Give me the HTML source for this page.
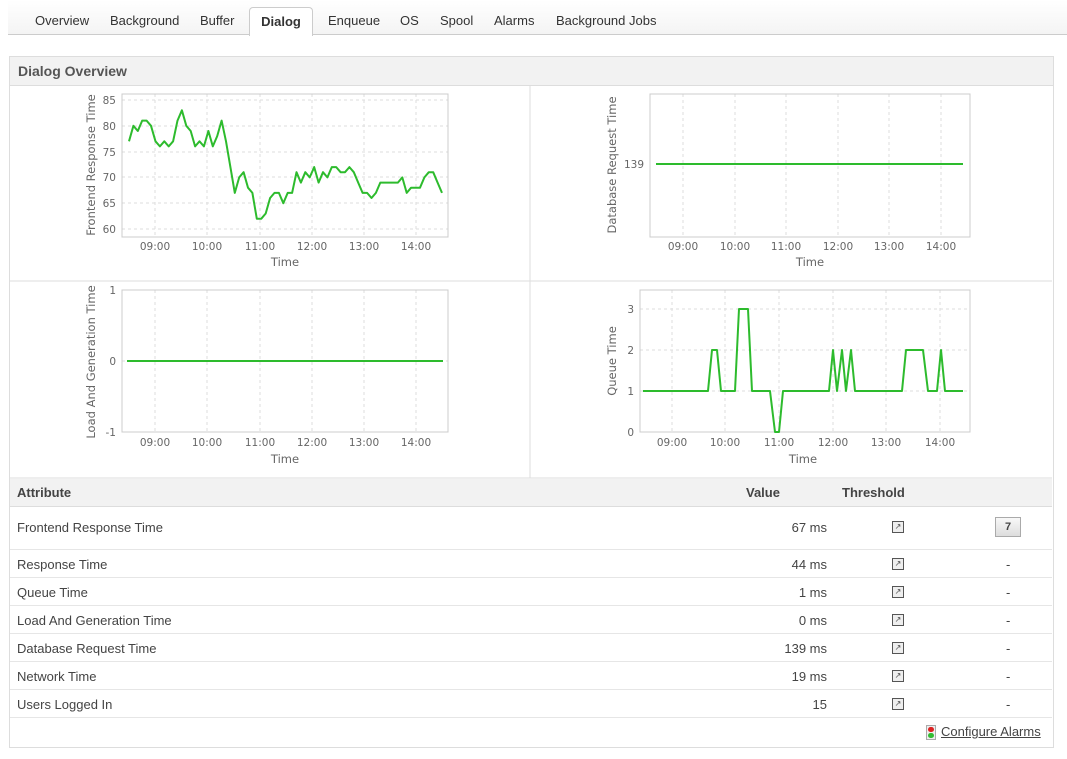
<!DOCTYPE html>
<html><head><meta charset="utf-8"><style>
body{margin:0;width:1067px;height:759px;background:#fff;font-family:"Liberation Sans",sans-serif;position:relative;overflow:hidden;color:#444}
.tabs{position:absolute;left:8px;top:0;width:1059px;height:34px;border-bottom:1px solid #ccc;background:linear-gradient(#fff,#f4f4f4)}
.tab{position:absolute;top:13px;font-size:13px;color:#333}
.act{position:absolute;left:249px;top:7px;width:62px;height:28px;border:1px solid #ccc;border-bottom:none;border-radius:4px 4px 0 0;background:#fff;font-weight:bold;font-size:13px;text-align:center;line-height:28px;color:#333}
.panel{position:absolute;left:9px;top:56px;width:1043px;height:690px;border:1px solid #ddd}
.ph{position:absolute;left:0;top:0;width:1043px;height:28px;background:#f2f2f2;border-bottom:1px solid #ddd;font-weight:bold;font-size:14px;color:#555;line-height:28px;text-indent:8px}
svg text{font-family:"DejaVu Sans",sans-serif;fill:#666}
.ic{position:absolute;width:10px;height:10px;border:1px solid #555;background:#eee;font-size:8px;line-height:10px;text-align:center}
</style></head><body>
<div class="tabs">
<span class="tab" style="left:27px">Overview</span>
<span class="tab" style="left:102px">Background</span>
<span class="tab" style="left:192px">Buffer</span>
<span class="tab" style="left:320px">Enqueue</span>
<span class="tab" style="left:392px">OS</span>
<span class="tab" style="left:432px">Spool</span>
<span class="tab" style="left:486px">Alarms</span>
<span class="tab" style="left:548px">Background Jobs</span>
</div>
<div class="act">Dialog</div>
<div class="panel"><div class="ph">Dialog Overview</div></div>
<svg style="position:absolute;left:0;top:0" width="1067" height="759">
<g stroke="#ddd" fill="none">
<line x1="530" y1="85" x2="530" y2="478"/>
<line x1="10" y1="281" x2="1052" y2="281"/>
<line x1="10" y1="478" x2="1052" y2="478"/>
</g>
<g stroke="#ddd" stroke-dasharray="3,3">
<line x1="155" y1="94" x2="155" y2="237"/><line x1="207" y1="94" x2="207" y2="237"/><line x1="260" y1="94" x2="260" y2="237"/><line x1="312" y1="94" x2="312" y2="237"/><line x1="364" y1="94" x2="364" y2="237"/><line x1="416" y1="94" x2="416" y2="237"/>
<line x1="122" y1="100" x2="448" y2="100"/><line x1="122" y1="126" x2="448" y2="126"/><line x1="122" y1="152" x2="448" y2="152"/><line x1="122" y1="177" x2="448" y2="177"/><line x1="122" y1="203" x2="448" y2="203"/><line x1="122" y1="229" x2="448" y2="229"/>
<line x1="683" y1="94" x2="683" y2="237"/><line x1="735" y1="94" x2="735" y2="237"/><line x1="786" y1="94" x2="786" y2="237"/><line x1="838" y1="94" x2="838" y2="237"/><line x1="889" y1="94" x2="889" y2="237"/><line x1="941" y1="94" x2="941" y2="237"/>
<line x1="155" y1="290" x2="155" y2="432"/><line x1="207" y1="290" x2="207" y2="432"/><line x1="260" y1="290" x2="260" y2="432"/><line x1="312" y1="290" x2="312" y2="432"/><line x1="364" y1="290" x2="364" y2="432"/><line x1="416" y1="290" x2="416" y2="432"/>
<line x1="122" y1="361" x2="448" y2="361"/>
<line x1="672" y1="290" x2="672" y2="432"/><line x1="725" y1="290" x2="725" y2="432"/><line x1="779" y1="290" x2="779" y2="432"/><line x1="833" y1="290" x2="833" y2="432"/><line x1="886" y1="290" x2="886" y2="432"/><line x1="940" y1="290" x2="940" y2="432"/>
<line x1="640" y1="309" x2="970" y2="309"/><line x1="640" y1="350" x2="970" y2="350"/><line x1="640" y1="391" x2="970" y2="391"/>
</g>
<g fill="none" stroke="#ccc">
<rect x="122" y="94" width="326" height="143"/><rect x="650" y="94" width="320" height="143"/>
<rect x="122" y="290" width="326" height="142"/><rect x="640" y="290" width="330" height="142"/>
</g>
<g font-size="10.5" text-anchor="end">
<text x="116" y="104">85</text><text x="116" y="130">80</text><text x="116" y="156">75</text><text x="116" y="181">70</text><text x="116" y="207">65</text><text x="116" y="233">60</text>
<text x="644" y="168">139</text>
<text x="116" y="294">1</text><text x="116" y="365">0</text><text x="116" y="436">-1</text>
<text x="634" y="313">3</text><text x="634" y="354">2</text><text x="634" y="395">1</text><text x="634" y="436">0</text>
</g>
<g font-size="10.5" text-anchor="middle">
<text x="155" y="250">09:00</text><text x="207" y="250">10:00</text><text x="260" y="250">11:00</text><text x="312" y="250">12:00</text><text x="364" y="250">13:00</text><text x="416" y="250">14:00</text>
<text x="683" y="250">09:00</text><text x="735" y="250">10:00</text><text x="786" y="250">11:00</text><text x="838" y="250">12:00</text><text x="889" y="250">13:00</text><text x="941" y="250">14:00</text>
<text x="155" y="446">09:00</text><text x="207" y="446">10:00</text><text x="260" y="446">11:00</text><text x="312" y="446">12:00</text><text x="364" y="446">13:00</text><text x="416" y="446">14:00</text>
<text x="672" y="446">09:00</text><text x="725" y="446">10:00</text><text x="779" y="446">11:00</text><text x="833" y="446">12:00</text><text x="886" y="446">13:00</text><text x="940" y="446">14:00</text>
</g>
<g font-size="11.5" text-anchor="middle">
<text x="285" y="266">Time</text><text x="810" y="266">Time</text><text x="285" y="463">Time</text><text x="803" y="463">Time</text>
<text transform="translate(95,165) rotate(-90)">Frontend Response Time</text>
<text transform="translate(616,165) rotate(-90)">Database Request Time</text>
<text transform="translate(95,362) rotate(-90)">Load And Generation Time</text>
<text transform="translate(616,361) rotate(-90)">Queue Time</text>
</g>
<g fill="none" stroke="#2dbb2d" stroke-width="2" stroke-linejoin="round">
<polyline id="fr" points=""/>
<line x1="656" y1="164" x2="963" y2="164"/>
<line x1="127" y1="361" x2="443" y2="361"/>
<polyline points="643,391 708,391 712,350 717,350 721,391 735,391 739,309 748,309 752,391 770,391 775,432 779,432 783,391 829,391 833,350 837,391 842,350 846,391 851,350 855,391 902,391 906,350 923,350 928,391 937,391 941,350 945,391 963,391"/>
</g>
</svg>
<div style="position:absolute;left:10px;top:479px;width:1042px;height:27px;background:#f2f2f2;border-bottom:1px solid #ddd;font-size:13px;font-weight:bold;color:#444">
<span style="position:absolute;left:7px;top:6px">Attribute</span>
<span style="position:absolute;left:736px;top:6px">Value</span>
<span style="position:absolute;left:832px;top:6px">Threshold</span>
</div>
<div style="position:absolute;left:10px;top:507px;width:1042px;font-size:13px">
<div style="position:absolute;left:7px;top:13px">Frontend Response Time</div>
<div style="position:absolute;right:225px;top:13px">67 ms</div>
<div class="ic" style="left:882px;top:14px">↗</div>
<div style="position:absolute;left:985px;top:10px;width:24px;height:18px;background:linear-gradient(#f8f8f8,#ddd);border:1px solid #aaa;font-size:11px;font-weight:bold;text-align:center;line-height:18px">7</div>
</div>
<div id="rows"></div>
<div style="position:absolute;left:926px;top:725px;width:8px;height:13px;background:#eee;border:1px solid #aaa"><div style="width:6px;height:5px;margin:1px;border-radius:3px;background:#d22"></div><div style="width:6px;height:5px;margin:0 1px;border-radius:3px;background:#3b3"></div></div>
<div style="position:absolute;left:941px;top:724px;font-size:13px;text-decoration:underline;color:#444">Configure Alarms</div>
<script>
var v=[77,80,79,81,81,80,77,76,77,76,77,81,83,80,79,76,77,76,79,76,78,81,77,72,67,70,71,68,67,62,62,63,66,67,67,65,67,67,71,69,71,70,72,69,71,70,72,72,71,71,72,71,69,67,67,66,67,69,69,69,69,69,70,67,68,68,68,70,71,71,69,67];
var p=[];for(var i=0;i<v.length;i++){p.push((129+i*(442-129)/(v.length-1)).toFixed(1)+","+(229-(v[i]-60)*129/25).toFixed(1));}
document.getElementById("fr").setAttribute("points",p.join(" "));
var r=[["Response Time","44 ms"],["Queue Time","1 ms"],["Load And Generation Time","0 ms"],["Database Request Time","139 ms"],["Network Time","19 ms"],["Users Logged In","15"]];
var h="";for(var j=0;j<r.length;j++){var t=549+j*28;
h+='<div style="position:absolute;left:10px;top:'+t+'px;width:1042px;height:28px;border-top:1px solid #e6e6e6;font-size:13px"><span style="position:absolute;left:7px;top:7px">'+r[j][0]+'</span><span style="position:absolute;right:225px;top:7px">'+r[j][1]+'</span><div class="ic" style="left:882px;top:8px">↗</div><span style="position:absolute;left:996px;top:7px">-</span></div>';}
h+='<div style="position:absolute;left:10px;top:717px;width:1042px;border-top:1px solid #e6e6e6"></div>';
document.getElementById("rows").innerHTML=h;
</script>
</body></html>
